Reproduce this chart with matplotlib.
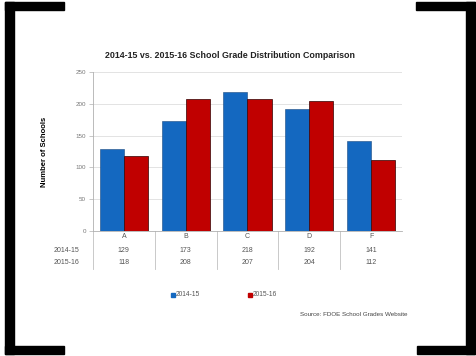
import numpy as np
import matplotlib.pyplot as plt
from matplotlib.lines import Line2D
from matplotlib.patches import Rectangle

plt.rcParams['font.family'] = ['Liberation Sans', 'DejaVu Sans']

grades = ['A', 'B', 'C', 'D', 'F']
series_names = ['2014-15', '2015-16']
schools_1415 = [129, 173, 218, 192, 141]
schools_1516 = [118, 208, 207, 204, 112]
yticks = [0, 50, 100, 150, 200, 250]

blue = '#1468C0'
red = '#C00000'

W, H = 477, 356
fig = plt.figure(figsize=(W / 100, H / 100), dpi=100)
fig.patch.set_facecolor('white')

# plot area in pixel terms -> figure fractions
left, right, top, bottom = 93, 402, 72, 231
ax = fig.add_axes([left / W, 1 - bottom / H, (right - left) / W, (bottom - top) / H])

x = np.arange(len(grades))
bw = 0.39
ax.bar(x - bw / 2, schools_1415, bw, color=blue, edgecolor='#1a4a80', linewidth=0.4,
       label=series_names[0], zorder=3)
ax.bar(x + bw / 2, schools_1516, bw, color=red, edgecolor='#300000', linewidth=0.5,
       label=series_names[1], zorder=3)

ax.set_xlim(-0.5, len(grades) - 0.5)
ax.set_ylim(0, 250)
ax.set_yticks(yticks)
ax.set_yticklabels([str(v) for v in yticks], fontsize=4.5, color='#777777')
ax.set_xticks([])
ax.grid(axis='y', color='#dedede', linewidth=0.6, zorder=0)
for s in ['top', 'right']:
    ax.spines[s].set_visible(False)
ax.spines['left'].set_color('#b0b0b0')
ax.spines['left'].set_linewidth(0.6)
ax.spines['bottom'].set_color('#b0b0b0')
ax.spines['bottom'].set_linewidth(0.6)
ax.tick_params(axis='y', length=3, width=0.5, color='#b0b0b0', pad=2)

ax.set_ylabel('Number of Schools', fontsize=5.5, fontweight='bold', labelpad=20)

# data table beneath the axis
trans = ax.get_xaxis_transform()
ph = bottom - top
def ay(py):
    return (bottom - py) / ph

for i, g in enumerate(grades):
    ax.text(i, ay(236), g, transform=trans, ha='center', va='center',
            fontsize=5, color='#555555', clip_on=False)
    ax.text(i, ay(250), str(schools_1415[i]), transform=trans, ha='center', va='center',
            fontsize=5, color='#555555', clip_on=False)
    ax.text(i, ay(263), str(schools_1516[i]), transform=trans, ha='center', va='center',
            fontsize=5, color='#555555', clip_on=False)
for i in range(len(grades)):
    ax.add_line(Line2D([i - 0.5, i - 0.5], [ay(231), ay(269)], transform=trans,
                       color='#c0c0c0', linewidth=0.6, clip_on=False))
for k, name in enumerate(series_names):
    py = 250 + 13 * k
    fig.text(79 / W, 1 - py / H, name, ha='right', va='center', fontsize=5, color='#555555')

fig.text(230 / W, 1 - 55 / H, '2014-15 vs. 2015-16 School Grade Distribution Comparison',
         ha='center', va='center', fontsize=6.4, fontweight='bold', color='#222222')

# legend
for k, (name, c) in enumerate(zip(series_names, [blue, red])):
    px = 171 + 77 * k
    fig.patches.append(Rectangle((px / W, 1 - 297 / H), 4 / W, 4 / H,
                                 transform=fig.transFigure, color=c))
    fig.text((px + 5) / W, 1 - 295 / H, name, ha='left', va='center',
             fontsize=4.8, color='#555555')

fig.text(408 / W, 1 - 314 / H, 'Source: FDOE School Grades Website', ha='right',
         va='center', fontsize=4.5, color='#444444')

# black corner brackets
def bar(x0, y0, x1, y1):
    fig.patches.append(Rectangle((x0 / W, 1 - y1 / H), (x1 - x0) / W, (y1 - y0) / H,
                                 transform=fig.transFigure, color='black'))

bar(5, 2, 14, 354)
bar(5, 2, 64, 10)
bar(5, 346, 64, 354)
bar(466, 2, 475, 354)
bar(416, 2, 475, 10)
bar(417, 346, 475, 354)

fig.savefig('out.png', dpi=100)
